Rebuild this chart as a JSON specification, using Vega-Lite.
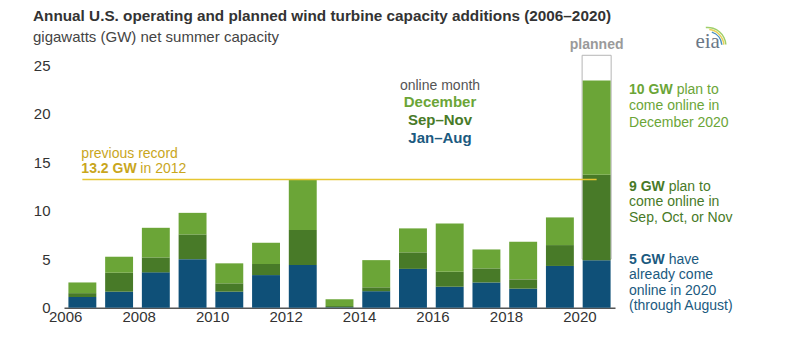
{
  "$schema": "https://vega.github.io/schema/vega-lite/v6.json",
  "width": 551,
  "height": 242.7,
  "autosize": "none",
  "padding": {"left": 64, "top": 65, "right": 185, "bottom": 52.3},
  "background": "white",
  "config": {
    "font": "Liberation Sans",
    "view": {"stroke": null},
    "text": {"font": "Liberation Sans"}
  },
  "title": {
    "text": "Annual U.S. operating and planned wind turbine capacity additions (2006–2020)",
    "subtitle": "gigawatts (GW) net summer capacity",
    "anchor": "start",
    "frame": "group",
    "dx": -31,
    "offset": -18,
    "fontSize": 15.3,
    "fontWeight": "bold",
    "color": "#333333",
    "subtitleFontSize": 15,
    "subtitleColor": "#444444",
    "subtitlePadding": 5,
    "font": "Liberation Sans",
    "subtitleFont": "Liberation Sans"
  },
  "datasets": {
    "bars": [
      {"year": "2006", "period": "Jan–Aug", "gw": 1.1}, {"year": "2006", "period": "Sep–Nov", "gw": 0.4}, {"year": "2006", "period": "December", "gw": 1.1},
      {"year": "2007", "period": "Jan–Aug", "gw": 1.65}, {"year": "2007", "period": "Sep–Nov", "gw": 1.95}, {"year": "2007", "period": "December", "gw": 1.65},
      {"year": "2008", "period": "Jan–Aug", "gw": 3.64}, {"year": "2008", "period": "Sep–Nov", "gw": 1.54}, {"year": "2008", "period": "December", "gw": 3.05},
      {"year": "2009", "period": "Jan–Aug", "gw": 5.0}, {"year": "2009", "period": "Sep–Nov", "gw": 2.55}, {"year": "2009", "period": "December", "gw": 2.22},
      {"year": "2010", "period": "Jan–Aug", "gw": 1.65}, {"year": "2010", "period": "Sep–Nov", "gw": 0.86}, {"year": "2010", "period": "December", "gw": 2.06},
      {"year": "2011", "period": "Jan–Aug", "gw": 3.36}, {"year": "2011", "period": "Sep–Nov", "gw": 1.14}, {"year": "2011", "period": "December", "gw": 2.19},
      {"year": "2012", "period": "Jan–Aug", "gw": 4.4}, {"year": "2012", "period": "Sep–Nov", "gw": 3.6}, {"year": "2012", "period": "December", "gw": 5.2},
      {"year": "2013", "period": "Jan–Aug", "gw": 0.05}, {"year": "2013", "period": "Sep–Nov", "gw": 0.12}, {"year": "2013", "period": "December", "gw": 0.7},
      {"year": "2014", "period": "Jan–Aug", "gw": 1.7}, {"year": "2014", "period": "Sep–Nov", "gw": 0.4}, {"year": "2014", "period": "December", "gw": 2.8},
      {"year": "2015", "period": "Jan–Aug", "gw": 4.0}, {"year": "2015", "period": "Sep–Nov", "gw": 1.7}, {"year": "2015", "period": "December", "gw": 2.47},
      {"year": "2016", "period": "Jan–Aug", "gw": 2.16}, {"year": "2016", "period": "Sep–Nov", "gw": 1.54}, {"year": "2016", "period": "December", "gw": 4.98},
      {"year": "2017", "period": "Jan–Aug", "gw": 2.6}, {"year": "2017", "period": "Sep–Nov", "gw": 1.45}, {"year": "2017", "period": "December", "gw": 1.95},
      {"year": "2018", "period": "Jan–Aug", "gw": 1.96}, {"year": "2018", "period": "Sep–Nov", "gw": 0.96}, {"year": "2018", "period": "December", "gw": 3.87},
      {"year": "2019", "period": "Jan–Aug", "gw": 4.3}, {"year": "2019", "period": "Sep–Nov", "gw": 2.15}, {"year": "2019", "period": "December", "gw": 2.85},
      {"year": "2020", "period": "Jan–Aug", "gw": 4.9}, {"year": "2020", "period": "Sep–Nov", "gw": 8.8}, {"year": "2020", "period": "December", "gw": 9.7}
    ]
  },
  "layer": [
    {
      "data": {"values": [{"k": "planned box"}]},
      "mark": {"type": "bar", "fill": "white", "stroke": "#b5b5b5", "strokeWidth": 1, "width": {"band": 1.04}},
      "encoding": {
        "x": {"datum": "2020", "type": "ordinal"},
        "y": {"datum": 5, "type": "quantitative"},
        "y2": {"datum": 26}
      }
    },
    {
      "data": {"name": "bars"},
      "transform": [
        {"calculate": "indexof(['Jan–Aug', 'Sep–Nov', 'December'], datum.period)", "as": "stackRank"}
      ],
      "mark": {"type": "bar"},
      "encoding": {
        "x": {
          "field": "year", "type": "ordinal", "title": null,
          "scale": {"paddingInner": 0.24, "paddingOuter": 0.12},
          "axis": {
            "values": ["2006", "2008", "2010", "2012", "2014", "2016", "2018", "2020"],
            "labelAngle": 0, "labelFontSize": 15, "labelColor": "#333333", "labelPadding": 9,
            "ticks": false, "domainColor": "#555555", "domainWidth": 1.5, "grid": false
          }
        },
        "y": {
          "field": "gw", "type": "quantitative", "aggregate": "sum", "title": null,
          "scale": {"domain": [0, 25], "nice": false},
          "axis": {
            "values": [0, 5, 10, 15, 20, 25], "labelFontSize": 15, "labelColor": "#333333",
            "labelPadding": 14, "ticks": false, "domain": false, "gridColor": "#dddddd", "gridWidth": 1
          }
        },
        "color": {
          "field": "period", "type": "nominal", "legend": null,
          "scale": {"domain": ["Jan–Aug", "Sep–Nov", "December"], "range": ["#0f5078", "#487a28", "#6ba537"]}
        },
        "order": {"field": "stackRank", "type": "quantitative", "sort": "ascending"}
      }
    },
    {
      "data": {"values": [{"k": "legend gap"}]},
      "mark": {"type": "bar", "fill": "white", "width": {"band": 2.56}, "xOffset": -9.7},
      "encoding": {
        "x": {"datum": "2016", "type": "ordinal"},
        "y": {"datum": 19.8, "type": "quantitative"},
        "y2": {"datum": 20.2}
      }
    },
    {
      "data": {"values": [{"k": "record"}]},
      "mark": {"type": "rule", "color": "#e6c632", "strokeWidth": 1.5},
      "encoding": {
        "x": {"datum": "2006", "type": "ordinal"},
        "x2": {"datum": "2020"},
        "y": {"datum": 13.2, "type": "quantitative"}
      }
    },
    {
      "data": {"values": [{"k": "logo arc 1"}]},
      "mark": {"type": "arc", "radius": 19, "radius2": 17.5, "theta": -0.1, "theta2": 1.5, "color": "#9fcf6a", "xOffset": 111, "yOffset": 6},
      "encoding": {"x": {"datum": "2020", "type": "ordinal"}, "y": {"datum": 27.6, "type": "quantitative"}}
    },
    {
      "data": {"values": [{"k": "logo arc 2"}]},
      "mark": {"type": "arc", "radius": 17, "radius2": 15.5, "theta": 0.1, "theta2": 1.5, "color": "#e8d25a", "xOffset": 111, "yOffset": 6},
      "encoding": {"x": {"datum": "2020", "type": "ordinal"}, "y": {"datum": 27.6, "type": "quantitative"}}
    },
    {
      "data": {"values": [{"k": "logo arc 3"}]},
      "mark": {"type": "arc", "radius": 15, "radius2": 13.5, "theta": 0.3, "theta2": 1.5, "color": "#4a8fbf", "xOffset": 111, "yOffset": 6},
      "encoding": {"x": {"datum": "2020", "type": "ordinal"}, "y": {"datum": 27.6, "type": "quantitative"}}
    },
    {
      "data": {"values": [{"t": "planned"}]},
      "mark": {"type": "text", "align": "center", "baseline": "middle", "fontSize": 14, "fontWeight": "bold", "color": "#9a9a9a"},
      "encoding": {"x": {"datum": "2020", "type": "ordinal"}, "y": {"datum": 27.06, "type": "quantitative"}, "text": {"field": "t"}}
    },
    {
      "data": {"values": [{"t": "eia"}]},
      "mark": {"type": "text", "align": "center", "baseline": "middle", "fontSize": 21, "font": "Liberation Serif", "color": "#6a7786", "dx": 111},
      "encoding": {"x": {"datum": "2020", "type": "ordinal"}, "y": {"datum": 27.4, "type": "quantitative"}, "text": {"field": "t"}}
    },
    {
      "data": {"values": [{"t": "previous record"}]},
      "mark": {"type": "text", "align": "left", "baseline": "middle", "fontSize": 14, "color": "#c9a61c", "dx": -1},
      "encoding": {"x": {"datum": "2006", "type": "ordinal"}, "y": {"datum": 15.83, "type": "quantitative"}, "text": {"field": "t"}}
    },
    {
      "data": {"values": [{"t": "13.2 GW"}]},
      "mark": {"type": "text", "align": "left", "baseline": "middle", "fontSize": 14, "fontWeight": "bold", "color": "#c9a61c", "dx": -1},
      "encoding": {"x": {"datum": "2006", "type": "ordinal"}, "y": {"datum": 14.24, "type": "quantitative"}, "text": {"field": "t"}}
    },
    {
      "data": {"values": [{"t": "in 2012"}]},
      "mark": {"type": "text", "align": "left", "baseline": "middle", "fontSize": 14, "color": "#c9a61c", "dx": 58},
      "encoding": {"x": {"datum": "2006", "type": "ordinal"}, "y": {"datum": 14.24, "type": "quantitative"}, "text": {"field": "t"}}
    },
    {
      "data": {"values": [{"t": "online month"}]},
      "mark": {"type": "text", "align": "center", "baseline": "middle", "fontSize": 14, "color": "#555555", "dx": -9.7},
      "encoding": {"x": {"datum": "2016", "type": "ordinal"}, "y": {"datum": 22.87, "type": "quantitative"}, "text": {"field": "t"}}
    },
    {
      "data": {"values": [{"t": "December"}]},
      "mark": {"type": "text", "align": "center", "baseline": "middle", "fontSize": 15, "fontWeight": "bold", "color": "#6ba537", "dx": -9.7},
      "encoding": {"x": {"datum": "2016", "type": "ordinal"}, "y": {"datum": 21.16, "type": "quantitative"}, "text": {"field": "t"}}
    },
    {
      "data": {"values": [{"t": "Sep–Nov"}]},
      "mark": {"type": "text", "align": "center", "baseline": "middle", "fontSize": 15, "fontWeight": "bold", "color": "#487a28", "dx": -9.7},
      "encoding": {"x": {"datum": "2016", "type": "ordinal"}, "y": {"datum": 19.33, "type": "quantitative"}, "text": {"field": "t"}}
    },
    {
      "data": {"values": [{"t": "Jan–Aug"}]},
      "mark": {"type": "text", "align": "center", "baseline": "middle", "fontSize": 15, "fontWeight": "bold", "color": "#1b5a80", "dx": -9.7},
      "encoding": {"x": {"datum": "2016", "type": "ordinal"}, "y": {"datum": 17.45, "type": "quantitative"}, "text": {"field": "t"}}
    },
    {
      "data": {"values": [{"t": "10 GW"}]},
      "mark": {"type": "text", "align": "left", "baseline": "middle", "fontSize": 14, "fontWeight": "bold", "color": "#6ba537", "dx": 32.4},
      "encoding": {"x": {"datum": "2020", "type": "ordinal"}, "y": {"datum": 22.42, "type": "quantitative"}, "text": {"field": "t"}}
    },
    {
      "data": {"values": [{"t": "plan to"}]},
      "mark": {"type": "text", "align": "left", "baseline": "middle", "fontSize": 14, "color": "#6ba537", "dx": 80},
      "encoding": {"x": {"datum": "2020", "type": "ordinal"}, "y": {"datum": 22.42, "type": "quantitative"}, "text": {"field": "t"}}
    },
    {
      "data": {"values": [{"t": "come online in"}]},
      "mark": {"type": "text", "align": "left", "baseline": "middle", "fontSize": 14, "color": "#6ba537", "dx": 32.4},
      "encoding": {"x": {"datum": "2020", "type": "ordinal"}, "y": {"datum": 20.73, "type": "quantitative"}, "text": {"field": "t"}}
    },
    {
      "data": {"values": [{"t": "December 2020"}]},
      "mark": {"type": "text", "align": "left", "baseline": "middle", "fontSize": 14, "color": "#6ba537", "dx": 32.4},
      "encoding": {"x": {"datum": "2020", "type": "ordinal"}, "y": {"datum": 19.03, "type": "quantitative"}, "text": {"field": "t"}}
    },
    {
      "data": {"values": [{"t": "9 GW"}]},
      "mark": {"type": "text", "align": "left", "baseline": "middle", "fontSize": 14, "fontWeight": "bold", "color": "#487a28", "dx": 32.4},
      "encoding": {"x": {"datum": "2020", "type": "ordinal"}, "y": {"datum": 12.48, "type": "quantitative"}, "text": {"field": "t"}}
    },
    {
      "data": {"values": [{"t": "plan to"}]},
      "mark": {"type": "text", "align": "left", "baseline": "middle", "fontSize": 14, "color": "#487a28", "dx": 72},
      "encoding": {"x": {"datum": "2020", "type": "ordinal"}, "y": {"datum": 12.48, "type": "quantitative"}, "text": {"field": "t"}}
    },
    {
      "data": {"values": [{"t": "come online in"}]},
      "mark": {"type": "text", "align": "left", "baseline": "middle", "fontSize": 14, "color": "#487a28", "dx": 32.4},
      "encoding": {"x": {"datum": "2020", "type": "ordinal"}, "y": {"datum": 10.89, "type": "quantitative"}, "text": {"field": "t"}}
    },
    {
      "data": {"values": [{"t": "Sep, Oct, or Nov"}]},
      "mark": {"type": "text", "align": "left", "baseline": "middle", "fontSize": 14, "color": "#487a28", "dx": 32.4},
      "encoding": {"x": {"datum": "2020", "type": "ordinal"}, "y": {"datum": 9.29, "type": "quantitative"}, "text": {"field": "t"}}
    },
    {
      "data": {"values": [{"t": "5 GW"}]},
      "mark": {"type": "text", "align": "left", "baseline": "middle", "fontSize": 14, "fontWeight": "bold", "color": "#1b5a80", "dx": 32.4},
      "encoding": {"x": {"datum": "2020", "type": "ordinal"}, "y": {"datum": 4.91, "type": "quantitative"}, "text": {"field": "t"}}
    },
    {
      "data": {"values": [{"t": "have"}]},
      "mark": {"type": "text", "align": "left", "baseline": "middle", "fontSize": 14, "color": "#1b5a80", "dx": 72},
      "encoding": {"x": {"datum": "2020", "type": "ordinal"}, "y": {"datum": 4.91, "type": "quantitative"}, "text": {"field": "t"}}
    },
    {
      "data": {"values": [{"t": "already come"}]},
      "mark": {"type": "text", "align": "left", "baseline": "middle", "fontSize": 14, "color": "#1b5a80", "dx": 32.4},
      "encoding": {"x": {"datum": "2020", "type": "ordinal"}, "y": {"datum": 3.34, "type": "quantitative"}, "text": {"field": "t"}}
    },
    {
      "data": {"values": [{"t": "online in 2020"}]},
      "mark": {"type": "text", "align": "left", "baseline": "middle", "fontSize": 14, "color": "#1b5a80", "dx": 32.4},
      "encoding": {"x": {"datum": "2020", "type": "ordinal"}, "y": {"datum": 1.75, "type": "quantitative"}, "text": {"field": "t"}}
    },
    {
      "data": {"values": [{"t": "(through August)"}]},
      "mark": {"type": "text", "align": "left", "baseline": "middle", "fontSize": 14, "color": "#1b5a80", "dx": 32.4},
      "encoding": {"x": {"datum": "2020", "type": "ordinal"}, "y": {"datum": 0.18, "type": "quantitative"}, "text": {"field": "t"}}
    }
  ]
}
